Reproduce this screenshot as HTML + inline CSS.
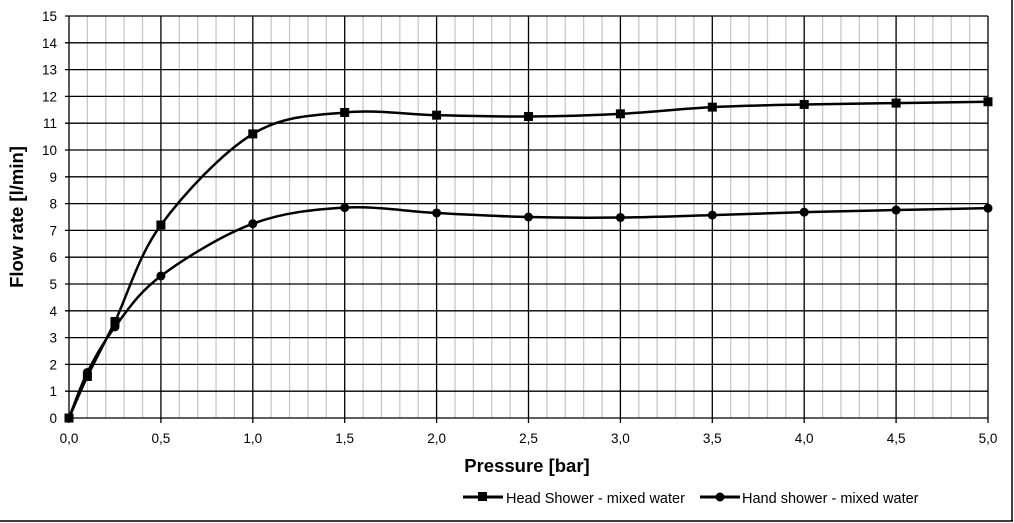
<!DOCTYPE html>
<html><head><meta charset="utf-8"><style>
body{margin:0;background:#fff}
svg{display:block;font-family:"Liberation Sans",sans-serif}
</style></head><body>
<svg id="c" width="1014" height="523" xmlns="http://www.w3.org/2000/svg">
<line x1="0" y1="521" x2="1013" y2="521" stroke="#000" stroke-width="1.5"/>
<line x1="1012" y1="0" x2="1012" y2="521" stroke="#000" stroke-width="1.5"/>
<g id="grid"></g>
<g id="series"></g>
<text x="527" y="472" text-anchor="middle" font-size="18.5" font-weight="bold">Pressure [bar]</text>
<text transform="translate(23,217) rotate(-90)" text-anchor="middle" font-size="18.5" font-weight="bold">Flow rate [l/min]</text>
<line x1="463" y1="497" x2="503" y2="497" stroke="#000" stroke-width="3"/>
<rect x="478" y="492" width="9" height="9" fill="#000"/>
<text x="506" y="503" font-size="14.5">Head Shower - mixed water</text>
<line x1="700" y1="497" x2="740" y2="497" stroke="#000" stroke-width="3"/>
<circle cx="720" cy="497" r="4.5" fill="#000"/>
<text x="742" y="503" font-size="14.5">Hand shower - mixed water</text>
</svg>
<script>
const NS="http://www.w3.org/2000/svg";
const X=v=>69+v*(988-69)/5, Y=v=>418-v*(418-16)/15;
const g=document.getElementById('grid'), s=document.getElementById('series');
function el(t,a,p){const e=document.createElementNS(NS,t);for(const k in a)e.setAttribute(k,a[k]);(p||g).appendChild(e);return e;}
for(let i=0;i<=50;i++){if(i%5)el('line',{x1:X(i/10),y1:Y(15),x2:X(i/10),y2:Y(0),stroke:'#c8c8c8','stroke-width':1.3});}
for(let j=0;j<=15;j++){el('line',{x1:65,y1:Y(j),x2:X(5),y2:Y(j),stroke:'#000','stroke-width':1.3});
 const t=el('text',{x:57,y:Y(j)+5,'text-anchor':'end','font-size':13.5});t.textContent=j;}
for(let i=0;i<=10;i++){const x=X(i/2);el('line',{x1:x,y1:Y(15),x2:x,y2:Y(0)+5,stroke:'#000','stroke-width':1.3});
 const t=el('text',{x:x,y:443,'text-anchor':'middle','font-size':13.5});t.textContent=(i/2).toFixed(1).replace('.',',');}
const xs=[0,0.1,0.25,0.5,1,1.5,2,2.5,3,3.5,4,4.5,5];
const head=[0,1.55,3.6,7.2,10.6,11.4,11.3,11.25,11.35,11.6,11.7,11.75,11.8];
const hand=[0,1.7,3.4,5.3,7.25,7.85,7.65,7.5,7.48,7.57,7.68,7.76,7.83];
function path(ys){const p=xs.map((x,i)=>[X(x),Y(ys[i])]);let d=`M${p[0]}`;
 for(let i=0;i<p.length-1;i++){const p0=p[i-1]||p[i],p1=p[i],p2=p[i+1],p3=p[i+2]||p2,k=1/6;
 d+=`C${p1[0]+(p2[0]-p0[0])*k},${p1[1]+(p2[1]-p0[1])*k} ${p2[0]-(p3[0]-p1[0])*k},${p2[1]-(p3[1]-p1[1])*k} ${p2[0]},${p2[1]}`;}
 el('path',{d:d,fill:'none',stroke:'#000','stroke-width':2.5},s);return p;}
path(head).forEach(q=>el('rect',{x:q[0]-4.5,y:q[1]-4.5,width:9,height:9,fill:'#000'},s));
path(hand).forEach(q=>el('circle',{cx:q[0],cy:q[1],r:4.5,fill:'#000'},s));
</script>
</body></html>
